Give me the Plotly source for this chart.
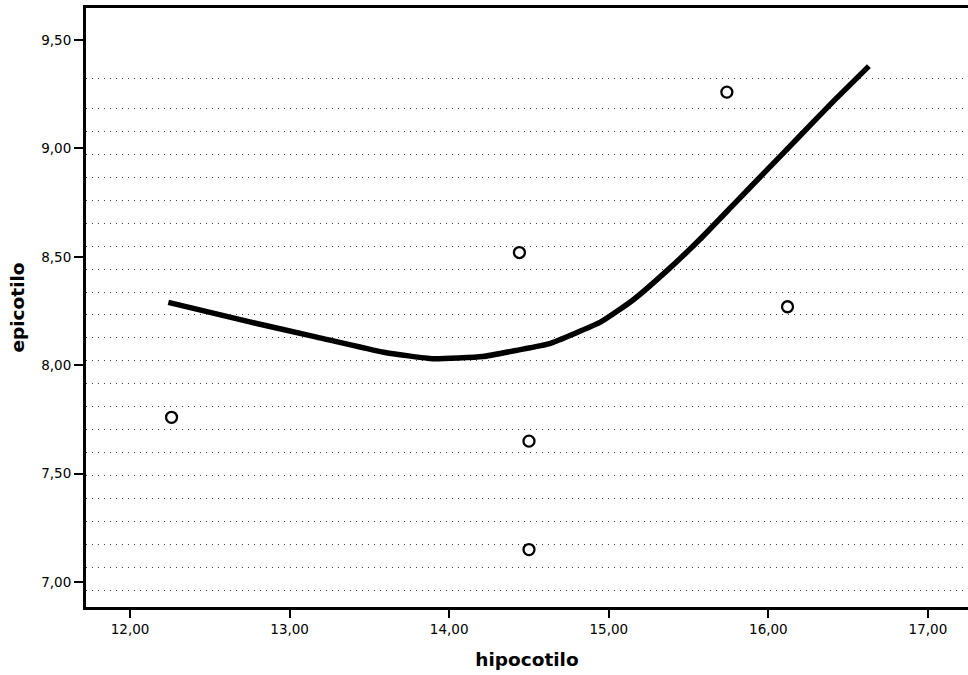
import numpy as np
import plotly.graph_objects as go

# observed points
hipocotilo = [12.26, 14.44, 14.50, 14.50, 15.74, 16.12]
epicotilo = [7.76, 8.52, 7.65, 7.15, 9.26, 8.27]

# fitted (loess-like) curve
fit_x = [12.24, 12.75, 13.17, 13.59, 13.90, 14.21, 14.43, 14.63, 14.95,
         15.15, 15.37, 15.57, 15.78, 15.99, 16.20, 16.41, 16.63]
fit_y = [8.29, 8.20, 8.13, 8.06, 8.03, 8.04, 8.07, 8.10, 8.20,
         8.30, 8.44, 8.58, 8.74, 8.90, 9.06, 9.22, 9.38]

x_ticks = [12, 13, 14, 15, 16, 17]
y_ticks = [7.0, 7.5, 8.0, 8.5, 9.0, 9.5]

# decorative dotted background rows (style only)
pattern_rows = [9.325] + [round(v, 3) for v in np.arange(9.186, 6.9, -0.106)]

fig = go.Figure()
fig.add_trace(go.Scatter(
    x=fit_x, y=fit_y, mode="lines",
    line=dict(color="black", width=5.5, shape="spline", smoothing=0.4),
    showlegend=False, hoverinfo="skip"))
fig.add_trace(go.Scatter(
    x=hipocotilo, y=epicotilo, mode="markers",
    marker=dict(symbol="circle-open", size=11, color="black",
                line=dict(width=2.3, color="black")),
    showlegend=False))

tickfont = dict(family="DejaVu Sans", size=13.5, color="black")
titlefont = dict(family="DejaVu Sans", size=18.5, color="black", weight="bold")

fig.update_layout(
    width=968, height=675,
    margin=dict(l=86, r=0, t=8, b=68),
    paper_bgcolor="white", plot_bgcolor="white",
    separators=",.",
    xaxis=dict(
        range=[11.724, 17.251], tickvals=x_ticks, tickformat=".2f",
        ticks="outside", ticklen=8, tickwidth=1.5, tickcolor="black",
        showline=True, linecolor="black", linewidth=3, mirror=True,
        showgrid=False, zeroline=False, tickfont=tickfont,
        title=dict(text="hipocotilo", font=titlefont, standoff=17)),
    yaxis=dict(
        range=[6.885, 9.648], tickvals=y_ticks, tickformat=".2f",
        ticks="outside", ticklen=9, tickwidth=1.5, tickcolor="black",
        showline=True, linecolor="black", linewidth=3, mirror=False,
        showgrid=False, zeroline=False, tickfont=tickfont,
        minor=dict(tickmode="array", tickvals=pattern_rows, ticks="",
                   showgrid=True, gridcolor="#444", gridwidth=1,
                   griddash="1px,5px"),
        title=dict(text="epicotilo", font=titlefont, standoff=12)),
)

fig.write_html("out.html")
